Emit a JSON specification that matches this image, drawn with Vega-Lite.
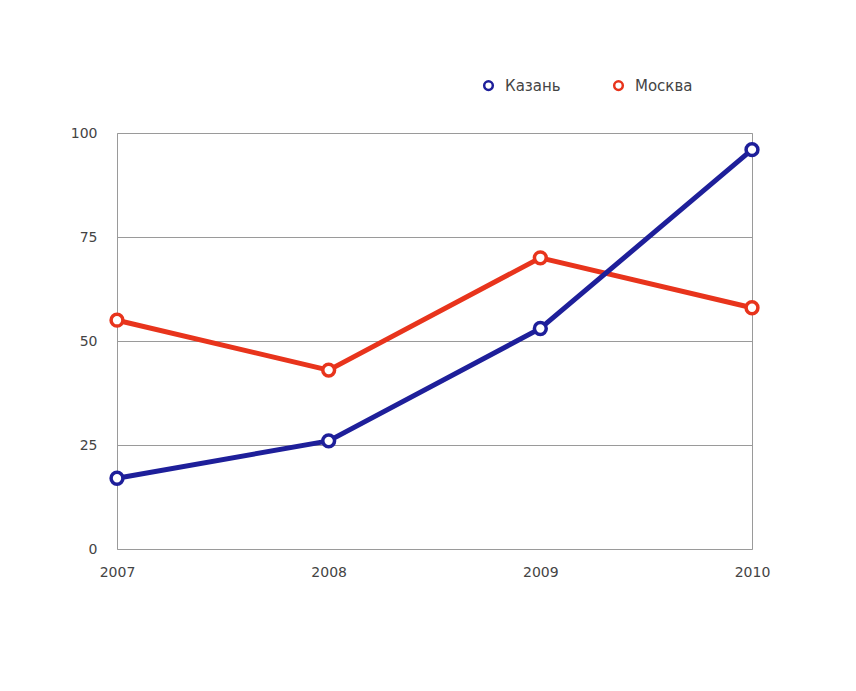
{
  "$schema": "https://vega.github.io/schema/vega-lite/v6.json",
  "autosize": {"type": "none"},
  "width": 635,
  "height": 416,
  "padding": {"left": 117, "top": 133, "right": 104, "bottom": 142},
  "background": "#ffffff",
  "config": {
    "font": "DejaVu Sans",
    "view": {"stroke": "#9a9a9a", "strokeWidth": 1}
  },
  "data": {
    "values": [
      {"year": "2007", "city": "Москва", "value": 55},
      {"year": "2008", "city": "Москва", "value": 43},
      {"year": "2009", "city": "Москва", "value": 70},
      {"year": "2010", "city": "Москва", "value": 58},
      {"year": "2007", "city": "Казань", "value": 17},
      {"year": "2008", "city": "Казань", "value": 26},
      {"year": "2009", "city": "Казань", "value": 53},
      {"year": "2010", "city": "Казань", "value": 96}
    ]
  },
  "encoding": {
    "x": {
      "field": "year", "type": "ordinal",
      "scale": {"type": "point", "padding": 0},
      "axis": {"title": null, "labelAngle": 0, "labelFontSize": 14, "labelColor": "#444444", "ticks": false, "domain": false, "labelPadding": 16, "grid": false}
    },
    "y": {
      "field": "value", "type": "quantitative",
      "scale": {"domain": [0, 100], "nice": false},
      "axis": {"title": null, "values": [0, 25, 50, 75, 100], "labelFontSize": 14, "labelColor": "#444444", "ticks": false, "domain": false, "labelPadding": 20, "grid": true, "gridColor": "#9a9a9a", "gridWidth": 1, "gridOpacity": 1}
    },
    "color": {
      "field": "city", "type": "nominal",
      "scale": {"domain": ["Казань", "Москва"], "range": ["#1e1f9a", "#e8341c"]},
      "legend": {
        "title": null, "orient": "none", "direction": "horizontal",
        "legendX": 364, "legendY": -55,
        "symbolType": "circle", "symbolFillColor": "#ffffff", "symbolStrokeWidth": 2.5, "symbolSize": 75,
        "labelFontSize": 15, "labelColor": "#444444", "columnPadding": 48, "labelOffset": 9
      }
    },
    "order": {"field": "city", "sort": "descending"}
  },
  "layer": [
    {"mark": {"type": "line", "strokeWidth": 5}},
    {"mark": {"type": "point", "filled": false, "fill": "#ffffff", "fillOpacity": 1, "opacity": 1, "strokeWidth": 3.5, "size": 140}}
  ]
}
